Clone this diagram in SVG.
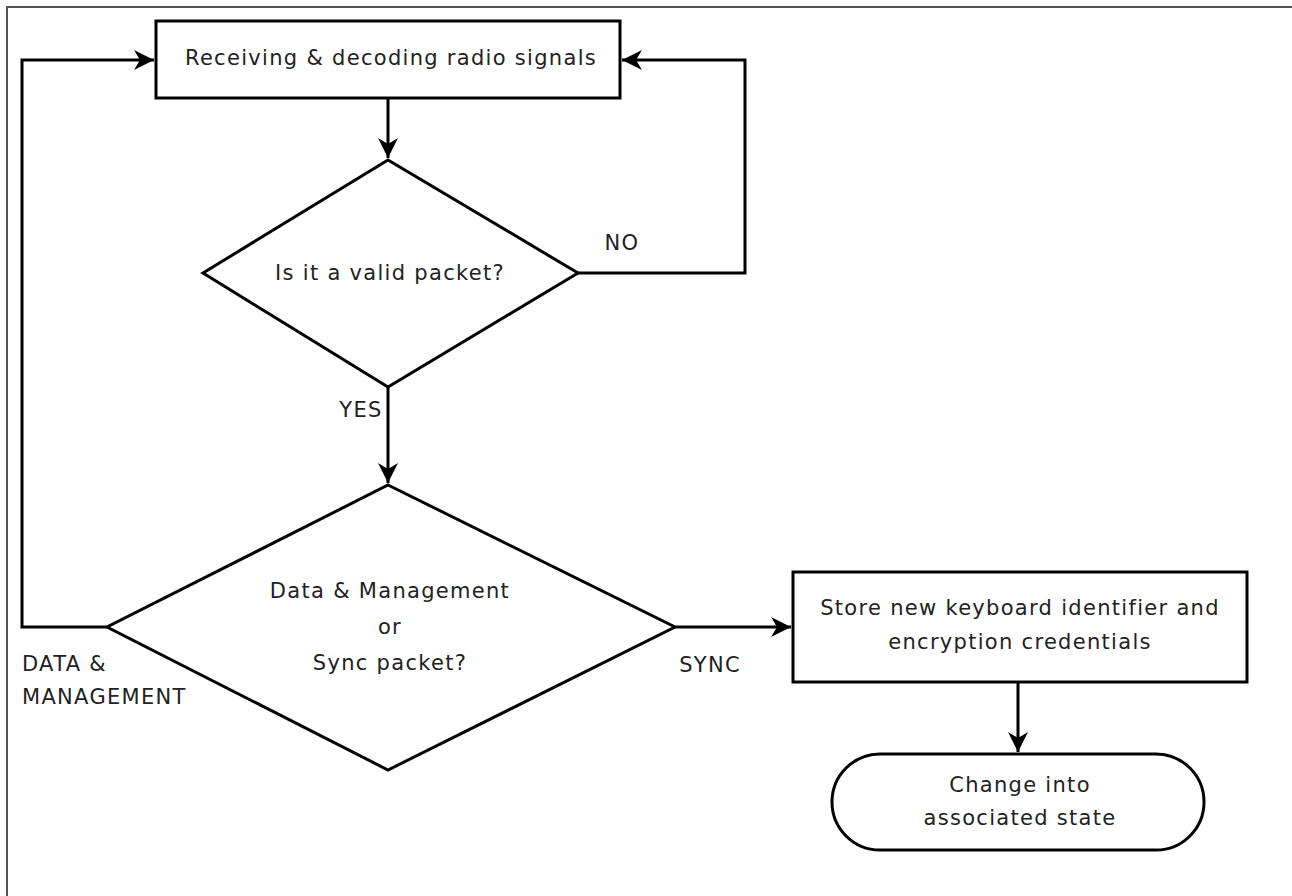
<svg xmlns="http://www.w3.org/2000/svg" width="1292" height="896" viewBox="0 0 1292 896">
<style>
.n{fill:#fff;stroke:#000;stroke-width:3}
.c{fill:none;stroke:#000;stroke-width:3}
text{font-family:"DejaVu Sans",sans-serif;font-size:21px;letter-spacing:1.3px;fill:#222;text-anchor:middle;dominant-baseline:central}
.l{text-anchor:start}
</style>
<defs>
<marker id="ah" markerWidth="24" markerHeight="24" refX="20" refY="12" orient="auto" markerUnits="userSpaceOnUse">
<path d="M0,2 L20,12 L0,22 L6,12 Z" fill="#000"/>
</marker>
</defs>
<rect width="1292" height="896" fill="#fff"/>
<path d="M7,896 V7 H1292" fill="none" stroke="#555" stroke-width="2"/>
<g id="connectors">
<path class="c" d="M388,98 V158" marker-end="url(#ah)"/>
<path class="c" d="M578,273 H745 V60 H622" marker-end="url(#ah)"/>
<path class="c" d="M388,387 V483" marker-end="url(#ah)"/>
<path class="c" d="M107,627 H22 V60 H154" marker-end="url(#ah)"/>
<path class="c" d="M675,627 H791" marker-end="url(#ah)"/>
<path class="c" d="M1018,682 V752" marker-end="url(#ah)"/>
<text x="622" y="243">NO</text>
<text x="361" y="410">YES</text>
<text class="l" x="22" y="664">DATA &amp;</text>
<text class="l" x="22" y="697">MANAGEMENT</text>
<text x="710" y="665">SYNC</text>
</g>
<g id="receive">
<rect class="n" x="156" y="21" width="464" height="77"/>
<text x="391" y="58">Receiving &amp; decoding radio signals</text>
</g>
<g id="valid">
<path class="n" d="M388,160 L578,273 L388,387 L203,273 Z"/>
<text x="390" y="273">Is it a valid packet?</text>
</g>
<g id="type">
<path class="n" d="M388,485 L675,627 L388,770 L107,627 Z"/>
<text x="390" y="591">Data &amp; Management</text>
<text x="390" y="627">or</text>
<text x="390" y="663">Sync packet?</text>
</g>
<g id="store">
<rect class="n" x="793" y="572" width="454" height="110"/>
<text x="1020" y="608">Store new keyboard identifier and</text>
<text x="1020" y="642">encryption credentials</text>
</g>
<g id="assoc">
<rect class="n" x="832" y="754" width="372" height="96" rx="48" ry="48"/>
<text x="1020" y="785">Change into</text>
<text x="1020" y="818">associated state</text>
</g>
</svg>
